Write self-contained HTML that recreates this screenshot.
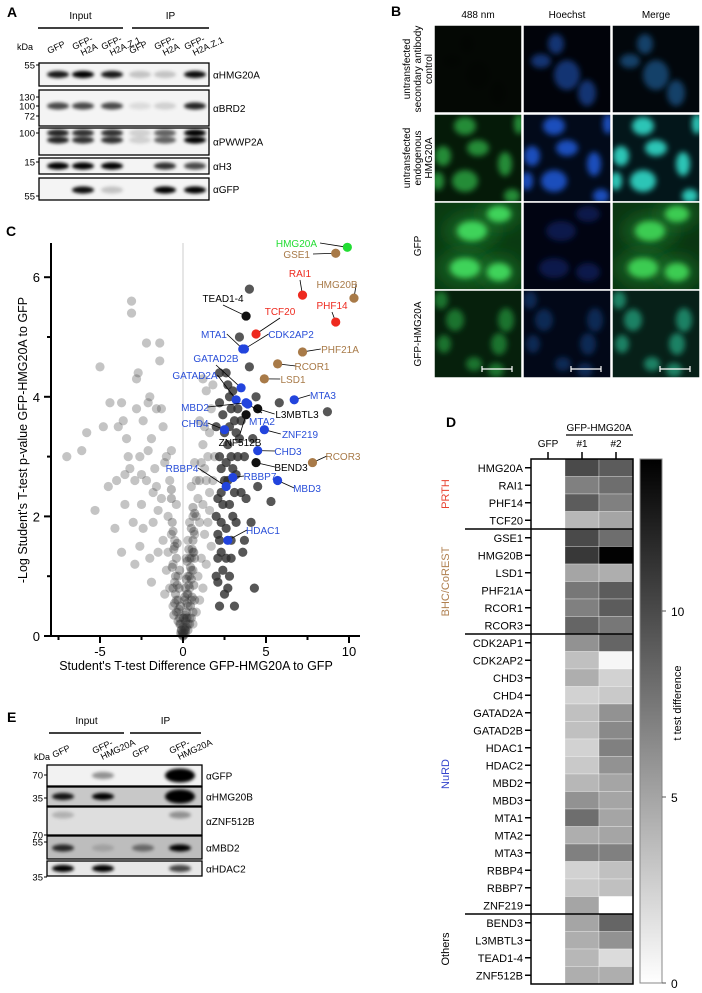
<!DOCTYPE html>
<html><head><meta charset="utf-8"><style>
html,body{margin:0;padding:0;background:#fff;}
svg{display:block;font-family:"Liberation Sans",Arial,sans-serif;}
</style></head><body>
<svg id="fig" width="702" height="993" viewBox="0 0 702 993" xmlns="http://www.w3.org/2000/svg">
<defs>
<filter id="blur1" x="-50%" y="-50%" width="200%" height="200%"><feGaussianBlur stdDeviation="1.6"/></filter>
<filter id="blur3" x="-50%" y="-50%" width="200%" height="200%"><feGaussianBlur stdDeviation="3"/></filter>
<filter id="blur8" x="-50%" y="-50%" width="200%" height="200%"><feGaussianBlur stdDeviation="8"/></filter>
<linearGradient id="cbar" x1="0" y1="1" x2="0" y2="0"><stop offset="0" stop-color="#fff"/><stop offset="1" stop-color="#000"/></linearGradient>
</defs>
<g id="panelA"></g>
<g id="panelB"></g>
<g id="panelC"></g>
<g id="panelD"></g>
<g id="panelE"></g>
</svg>
<script>
// ===== Panel C data =====
const hitNames = ["HMG20A","GSE1","RAI1","HMG20B","PHF14","TEAD1-4","TCF20","MTA1","CDK2AP2","PHF21A","RCOR1","LSD1","GATAD2B","GATAD2A","MTA3","MBD2","L3MBTL3","MTA2","ZNF512B","CHD4","ZNF219","CHD3","RCOR3","BEND3","RBBP4","RBBP7","MBD3","HDAC1"];
const hitDiff = [9.9,9.2,7.2,10.3,9.2,3.8,4.4,3.6,3.7,7.2,5.7,4.9,3.5,3.2,6.7,3.8,4.5,3.9,3.8,2.5,4.9,4.5,7.8,4.4,2.6,3.0,5.7,2.7];
const hitLogP = [6.5,6.4,5.7,5.65,5.25,5.35,5.05,4.8,4.8,4.75,4.55,4.3,4.15,3.95,3.95,3.9,3.8,3.88,3.7,3.45,3.45,3.1,2.9,2.9,2.5,2.65,2.6,1.6];
const hitGroup = ["bait","bhc","prth","bhc","prth","other","prth","nurd","nurd","bhc","bhc","bhc","nurd","nurd","nurd","nurd","other","nurd","other","nurd","nurd","nurd","bhc","other","nurd","nurd","nurd","nurd"];
const bgDiff = [-7,-6.1,-5.8,-5.3,-5.0,-4.8,-4.5,-4.4,-4.0,-3.9,-3.7,-3.6,-3.5,-3.4,-3.3,-3.1,-3.1,-2.8,-2.8,-2.7,-2.6,-2.5,-2.5,-2.4,-2.2,-2.1,-2.0,-1.9,-1.8,-1.6,-1.4,-1.4,-1.3,-1.2,-1.0,-3.0,-3.7,-2.9,-2.0,-2.4,-1.5,-1.2,-4.1,-3.2,-2.2,-1.7,-1.3,-0.9,-0.8,-0.7,-0.6,-0.5,-0.4,-0.3,-0.2,-0.1,-1.0,-0.9,-0.8,-1.5,-1.1,-0.6,-0.5,-0.4,-0.3,-1.8,-2.6,-1.9,-1.6,-1.1,-0.7,-2.1,-2.9,-3.5,
0.1,0.2,0.3,0.4,0.5,0.6,0.7,0.8,0.9,1.0,1.1,1.2,1.3,0.5,0.6,0.8,1.0,1.2,1.4,1.5,1.6,1.7,1.8,1.4,1.2,1.6,1.7,1.4,1.2,1.0,0.8,0.6,0.3,0.9,1.1,1.3,1.5,1.8,1.9,2.0,0.4,0.7,1.0,1.3,1.6,0.2,0.3,0.0,0.1,0.4,0.0,0.15,-0.15,0.25,0.5,
2.0,2.1,2.2,2.3,2.4,2.5,2.6,2.7,2.8,2.9,3.0,2.2,2.6,2.7,3.4,4.0,4.0,4.4,5.8,8.7,4.5,4.1,4.3,5.3,3.2,3.7,3.6,3.1,2.2,2.1,2.4,2.6,2.8,2.9,3.0,3.1,3.2,3.3,3.4,3.5,2.3,2.5,2.2,2.1,2.0,2.3,2.6,2.8,3.0,3.2,2.4,2.2,2.8,3.3,2.5,2.7,2.9,3.5,3.7,3.8,4.2,2.1,2.3,2.7,2.9,3.1];
const bgLogP = [3.0,3.1,3.4,2.1,4.5,3.5,2.5,3.9,2.6,3.5,3.9,3.6,2.2,3.3,3.0,5.6,5.4,3.8,4.3,4.4,3.0,2.7,2.2,3.6,4.9,3.9,4.0,3.3,2.4,3.8,4.9,4.6,3.8,3.5,3.0,1.9,1.4,1.2,1.3,1.8,2.1,1.6,1.8,2.8,2.6,2.8,2.3,2.0,2.6,1.7,1.2,0.9,0.6,0.4,0.2,0.1,1.1,1.4,0.8,1.4,0.7,0.5,1.6,2.2,1.0,1.9,1.5,0.9,2.5,2.9,3.1,3.1,2.6,2.7,
0.1,0.3,0.5,0.8,1.1,1.4,1.7,2.0,2.3,2.6,2.9,3.2,3.5,2.5,2.0,2.6,1.9,2.2,2.6,3.0,3.4,3.8,4.2,4.1,4.3,2.1,1.5,1.2,0.8,0.6,0.4,0.2,0.2,1.0,1.3,1.7,1.9,2.6,3.0,3.5,1.9,2.9,3.6,2.8,2.4,1.3,1.6,0.3,0.6,0.3,0.0,0.05,0.05,0.7,0.6,
1.0,1.3,1.6,1.9,2.2,2.6,2.9,3.2,3.5,3.8,4.1,4.4,4.4,4.2,5.0,5.8,4.5,4.0,3.9,3.75,2.5,1.9,0.8,2.25,1.9,1.6,1.4,0.5,0.5,0.9,1.1,1.3,1.0,1.6,2.0,2.4,2.7,3.0,3.3,3.6,2.8,3.4,3.0,2.3,2.0,1.4,1.8,2.2,2.8,3.4,3.7,3.9,4.0,3.8,0.7,0.8,1.3,2.4,3.0,2.3,3.3,1.7,2.4,2.6,3.0,3.6];
const xTicks = [-5,0,5,10];
const yTicks = [0,2,4,6];

// ===== Panel D data =====
const hmRows = ["HMG20A","RAI1","PHF14","TCF20","GSE1","HMG20B","LSD1","PHF21A","RCOR1","RCOR3","CDK2AP1","CDK2AP2","CHD3","CHD4","GATAD2A","GATAD2B","HDAC1","HDAC2","MBD2","MBD3","MTA1","MTA2","MTA3","RBBP4","RBBP7","ZNF219","BEND3","L3MBTL3","TEAD1-4","ZNF512B"];
const hmGFP = [0,0,0,0,0,0,0,0,0,0,0,0,0,0,0,0,0,0,0,0,0,0,0,0,0,0,0,0,0,0];
const hmRep1 = [10,7,9,4,10,11,5,7.5,7,8.5,6,3.5,4.5,2.5,3.5,3.5,2.5,3,4,6,8,4.5,7,2.5,3,5,5,4.5,4,4.5];
const hmRep2 = [9,8,7,5,8,14,4.5,9,9,7.5,8.5,0.5,2.5,3,6,6.5,7,6,5,5,5,5,7,3.5,3.5,0,8.5,6,2,4.5];
const cbTicks = [0,5,10];

const NS="http://www.w3.org/2000/svg";
function mk(tag, attrs, parent, txt){const e=document.createElementNS(NS,tag);for(const k in attrs)e.setAttribute(k,attrs[k]);if(txt!==undefined)e.textContent=txt;parent.appendChild(e);return e;}

// ===== Panel C =====
(function(){
const g=document.getElementById('panelC');
const px=x=>183+16.6*x, py=y=>636-59.8*y;
const t=mk('text',{x:6,y:236,'font-size':14,'font-weight':'bold'},g,'C');


const zl=mk('line',{x1:px(0),y1:py(0),x2:px(0),y2:243,stroke:'#ddd','stroke-width':1.5},g);


const pts=mk('g',{},g);


for(let i=0;i<bgDiff.length;i++){
  const dark=bgDiff[i]>=2;
  const c=mk('circle',{cx:px(bgDiff[i]),cy:py(bgLogP[i]),r:4.6,fill:dark?'rgba(45,45,45,0.8)':'rgba(70,70,70,0.32)'},pts);
  
  
}
for(let i=0;i<bgDiff.length;i++){
  if(Math.abs(bgDiff[i])<1.5){
    const c=mk('circle',{cx:px(bgDiff[i]*0.5),cy:py(bgLogP[i]*0.5),r:4.6,fill:'rgba(50,50,50,0.35)'},pts);
    
    
  }
}
const colors={bait:'#22dd33',bhc:'#a87a48',prth:'#ee2a1f',nurd:'#2244dd',other:'#111'};
const textCol={bait:'#22dd33',bhc:'#a87a48',prth:'#ee2a1f',nurd:'#2a4fd8',other:'#000'};
const lab=[[317,247,'end'],[310,258,'end'],[300,277,'middle'],[337,288,'middle'],[332,309,'middle'],[223,302,'middle'],[280,315,'middle'],[214,338,'middle'],[291,338,'middle'],[340,353,'middle'],[312,370,'middle'],[293,383,'middle'],[216,362,'middle'],[195,379,'middle'],[323,399,'middle'],[195,411,'middle'],[297,418,'middle'],[262,425,'middle'],[240,446,'middle'],[195,427,'middle'],[300,438,'middle'],[288,455,'middle'],[343,460,'middle'],[291,471,'middle'],[182,472,'middle'],[260,480,'middle'],[307,492,'middle'],[263,534,'middle']];
const hits=mk('g',{},g);


for(let i=0;i<hitNames.length;i++){
  const x=px(hitDiff[i]),y=py(hitLogP[i]);
  const L=lab[i];
  let lx=L[0], ly=L[1]-4;
  if(L[2]==='end'){lx=L[0]+3;} else {lx = (L[0]<x? L[0]+ (hitNames[i].length*3.2) : L[0]-(hitNames[i].length*3.2)); if(Math.abs(L[1]-y)>12 && Math.abs(L[0]-x)<30){lx=L[0];ly=L[1]+(L[1]<y?3:-12);}}
  mk('line',{x1:lx,y1:ly,x2:x,y2:y,stroke:'#000','stroke-width':0.8},hits);
  const c=mk('circle',{cx:x,cy:y,r:4.6,fill:colors[hitGroup[i]]},hits);
  
  
  const tx=mk('text',{x:L[0],y:L[1],'font-size':10,'text-anchor':L[2],fill:textCol[hitGroup[i]]},hits,hitNames[i]);
  
  
}
const ax=mk('g',{stroke:'#000','stroke-width':2,fill:'none'},g);


mk('line',{x1:51,y1:243,x2:51,y2:637},ax);
mk('line',{x1:50,y1:636,x2:360,y2:636},ax);
for(let v=0;v<=6.5;v+=1){mk('line',{x1:v%2===0?44:47,y1:py(v),x2:51,y2:py(v)},ax);}
for(let v=-7.5;v<=10.5;v+=2.5){mk('line',{x1:px(v),y1:636,x2:px(v),y2:(Math.abs(v%5)<0.01)?643:640},ax);}
yTicks.forEach(v=>{const e=mk('text',{x:40,y:py(v)+5,'font-size':13,'text-anchor':'end'},g,String(v));});
xTicks.forEach(v=>{const e=mk('text',{x:px(v),y:656,'font-size':13,'text-anchor':'middle'},g,String(v));});
const xt=mk('text',{x:196,y:670,'font-size':12.5,'text-anchor':'middle'},g,"Student's T-test Difference GFP-HMG20A to GFP");


const yt=mk('text',{x:0,y:0,'font-size':12.5,'text-anchor':'middle',transform:'translate(27,440) rotate(-90)'},g,"-Log Student's T-test p-value GFP-HMG20A to GFP");


})();

// ===== Panel D =====
(function(){
const g=document.getElementById('panelD');
const top=459, rh=17.5, cols=[531,565,599,633];
const ry=i=>top+i*rh;
const shade=v=>{const c=Math.round(255*(1-v/14.1));return 'rgb('+c+','+c+','+c+')';};
const t=mk('text',{x:446,y:427,'font-size':14,'font-weight':'bold'},g,'D');


const h=mk('text',{x:599,y:431,'font-size':10,'text-anchor':'middle'},g,'GFP-HMG20A');


mk('line',{x1:566,y1:435,x2:633,y2:435,stroke:'#000','stroke-width':1.2},g);
[['GFP',548],['#1',582],['#2',616]].forEach(c=>{const e=mk('text',{x:c[1],y:447,'font-size':10,'text-anchor':'middle'},g,c[0]);mk('line',{x1:c[1],y1:452,x2:c[1],y2:459,stroke:'#000','stroke-width':1.5},g);});
const reps=[hmGFP,hmRep1,hmRep2];
for(let i=0;i<hmRows.length;i++){
  for(let j=0;j<3;j++){
    const r=mk('rect',{x:cols[j],y:ry(i),width:cols[j+1]-cols[j],height:rh,fill:shade(reps[j][i]),stroke:j?'rgba(255,255,255,0.5)':'none','stroke-width':0.6},g);
    
    
  }
  const e=mk('text',{x:523,y:ry(i)+rh/2+4,'font-size':11,'text-anchor':'end'},g,hmRows[i]);
  
  
  mk('line',{x1:525,y1:ry(i)+rh/2,x2:531,y2:ry(i)+rh/2,stroke:'#000','stroke-width':1.5},g);
}
[4,10,26].forEach(k=>mk('line',{x1:465,y1:ry(k),x2:633,y2:ry(k),stroke:'#000','stroke-width':1.5},g));
const fr=mk('rect',{x:531,y:top,width:102,height:rh*30,fill:'none',stroke:'#000','stroke-width':1.5},g);


[['PRTH',0,4,'#e8412f'],['BHC/CoREST',4,10,'#b08050'],['NuRD',10,26,'#3344cc'],['Others',26,30,'#000']].forEach(gr=>{
  const cy=(ry(gr[1])+ry(gr[2]))/2;
  const e=mk('text',{x:0,y:0,'font-size':11,'text-anchor':'middle',fill:gr[3],transform:'translate(449,'+cy+') rotate(-90)'},g,gr[0]);
  
  
});
const cby=v=>983-v*37.2;
const cb=mk('rect',{x:640,y:459,width:22,height:524,fill:'url(#cbar)',stroke:'#888','stroke-width':1},g);


cbTicks.forEach(v=>{
  mk('line',{x1:662,y1:cby(v),x2:666,y2:cby(v),stroke:'#555','stroke-width':1},g);
  const e=mk('text',{x:671,y:cby(v)+5,'font-size':12},g,String(v));
  
  
});
const ct=mk('text',{x:0,y:0,'font-size':11,'text-anchor':'middle',transform:'translate(681,703) rotate(-90)'},g,'t test difference');


})();

// ===== Westerns =====
function western(g, o){
  const t=mk('text',{x:o.lx,y:o.ly,'font-size':14,'font-weight':'bold'},g,o.letter);
  
  
  o.groups.forEach(gr=>{
    const e=mk('text',{x:(gr[0]+gr[1])/2,y:o.gy,'font-size':10,'text-anchor':'middle'},g,gr[2]);
    
    
    mk('line',{x1:gr[0],y1:o.gy+9,x2:gr[1],y2:o.gy+9,stroke:'#000','stroke-width':1.5},g);
  });
  const k=mk('text',{x:o.kx,y:o.ky,'font-size':9},g,'kDa');
  
  
  o.lanes.forEach((x,i)=>{
    const lines=o.laneNames[i].split('|');
    const e=mk('text',{x:0,y:0,'font-size':9,transform:'translate('+(x-9)+','+(o.laneY-(lines.length-1)*4)+') rotate(-25)'},g);
    lines.forEach((s,j)=>mk('tspan',{x:j*5,dy:j?9:0},e,s));
    
    
  });
  o.boxes.forEach((b,bi)=>{
    const bg=mk('rect',{x:o.x0,y:b[0],width:o.x1-o.x0,height:b[1]-b[0],fill:b[3]||'#f4f4f4'},g);
    
    
    const bands=o.bands[bi];
    bands.forEach((v,li)=>{
      if(v<=0)return;
      const ys=b[4]||[(b[0]+b[1])/2];
      ys.forEach(yy=>{
        const big=v>=1.05;
        mk('ellipse',{cx:o.lanes[li],cy:yy,rx:big?15:11,ry:big?7:3.6,fill:'#000','fill-opacity':Math.min(v,1),filter:'url(#blur1)'},g);
      });
    });
    mk('rect',{x:o.x0,y:b[0],width:o.x1-o.x0,height:b[1]-b[0],fill:'none',stroke:'#000','stroke-width':1.3},g);
    const e=mk('text',{x:o.x1+4,y:(b[0]+b[1])/2+4,'font-size':10},g,b[2]);
    
    
  });
  o.kda.forEach(m=>{
    const e=mk('text',{x:o.x0-4,y:m[1]+3.5,'font-size':9.5,'text-anchor':'end'},g,m[0]);
    
    
    mk('line',{x1:o.x0-3,y1:m[1],x2:o.x0,y2:m[1],stroke:'#000','stroke-width':1},g);
  });
}
western(document.getElementById('panelA'),{
  letter:'A',lx:7,ly:17,gy:19,groups:[[38,123,'Input'],[132,209,'IP']],kx:17,ky:50,
  lanes:[58,83,112,140,165,195],laneNames:['GFP','GFP-|H2A','GFP-|H2A.Z.1','GFP','GFP-|H2A','GFP-|H2A.Z.1'],laneY:54,
  x0:39,x1:209,
  boxes:[[63,86,'αHMG20A'],[90,126,'αBRD2',null,[106]],[128,155,'αPWWP2A',null,[133,140]],[158,174,'αH3'],[178,200,'αGFP',null,[190]]],
  bands:[[0.9,1,0.9,0.2,0.2,0.95],[0.7,0.7,0.7,0.1,0.15,0.85],[0.85,0.8,0.8,0.15,0.6,1],[1,1,1,0,0.8,0.7],[0,0.95,0.2,0,1,1]],
  kda:[['55',65],['130',97],['100',106],['72',116],['100',133],['15',162],['55',196]]
});
western(document.getElementById('panelE'),{
  letter:'E',lx:7,ly:722,gy:724,groups:[[49,124,'Input'],[130,201,'IP']],kx:34,ky:760,
  lanes:[63,103,143,180],laneNames:['GFP','GFP-|HMG20A','GFP','GFP-|HMG20A'],laneY:758,
  x0:47,x1:202,
  boxes:[[765,786,'αGFP','#f2f2f2'],[787,806,'αHMG20B','#c8c8c8'],[807,835,'αZNF512B','#dedede',[815]],[836,859,'αMBD2','#bdbdbd',[848]],[861,876,'αHDAC2','#e8e8e8']],
  bands:[[0,0.4,0,1.1],[0.9,1,0,1.1],[0.2,0,0,0.35],[0.8,0.15,0.45,1],[1,1,0,0.7]],
  kda:[['70',775],['35',798],['70',835],['55',842],['35',877]]
});

// ===== Panel B =====
(function(){
const g=document.getElementById('panelB');
const t=mk('text',{x:391,y:16,'font-size':14,'font-weight':'bold'},g,'B');


const cx=[434,523,612], ry=[25,114,202,290], S=88;
[['488 nm',478],['Hoechst',567],['Merge',656]].forEach(c=>{const e=mk('text',{x:c[1],y:18,'font-size':10,'text-anchor':'middle'},g,c[0]);});
const rowLabels=[['untransfected','secondary antibody','control'],['untransfected','endogenous','HMG20A'],['GFP'],['GFP-HMG20A']];
rowLabels.forEach((ls,i)=>{
  const e=mk('text',{x:0,y:0,'font-size':10,'text-anchor':'middle',transform:'translate('+(421-(ls.length-1)*5.5)+','+(ry[i]+44)+') rotate(-90)'},g);
  ls.forEach((s,j)=>mk('tspan',{x:0,dy:j?11:0},e,s));
  
  
});
const nuc=[
 [[33,19,8,10],[18,36,10,7],[44,50,13,15],[64,68,9,13]],
 [[31,12,11,9],[44,34,11,8],[9,42,8,10],[31,67,13,11],[71,50,7,12],[78,82,8,7],[4,67,6,9],[85,10,5,10]],
 [[38,29,15,10],[31,66,15,10],[65,70,12,9],[65,12,12,8]],
 [[7,10,7,9],[21,30,9,11],[72,30,8,12],[10,54,7,9],[65,54,8,11],[40,74,8,7],[62,80,8,7]]
];
const bgs=[['#040804','#01030a','#02070c'],['#051a08','#020a1a','#03161a'],['#0a3a12','#010412','#0a3512'],['#06200c','#020818','#072018']];
const colsN=[['#081a08','#1a4aa0','#1a5a90'],['#2aa040','#1c5ad8','#30d8c8'],['#44e060','#142a70','#40d858'],['#22903a','#16366e','#239a78']];
const op=[[0.2,0.7,0.7],[0.85,0.85,0.9],[0.9,0.6,0.9],[0.75,0.7,0.8]];
for(let r=0;r<4;r++)for(let c=0;c<3;c++){
  const tile=mk('g',{},g);
  
  
  const id='clip'+r+c;
  const cp=mk('clipPath',{id:id},tile);
  mk('rect',{x:cx[c],y:ry[r],width:S,height:S},cp);
  const inner=mk('g',{'clip-path':'url(#'+id+')'},tile);
  mk('rect',{x:cx[c],y:ry[r],width:S,height:S,fill:bgs[r][c]},inner);
  if(r===2&&c!==1){nuc[r].forEach(n=>mk('ellipse',{cx:cx[c]+n[0],cy:ry[r]+n[1],rx:n[2]*1.8,ry:n[3]*1.8,fill:'#1d7a2c','fill-opacity':0.6,filter:'url(#blur8)'},inner));}
  nuc[r].forEach(n=>mk('ellipse',{cx:cx[c]+n[0],cy:ry[r]+n[1],rx:n[2],ry:n[3],fill:colsN[r][c],'fill-opacity':op[r][c],filter:'url(#blur3)'},inner));
  mk('rect',{x:cx[c],y:ry[r],width:S,height:S,fill:'none',stroke:'#fff','stroke-width':1.5},tile);
  if(r===3){mk('path',{d:'M'+(cx[c]+48)+' '+(ry[r]+79)+'h30M'+(cx[c]+48)+' '+(ry[r]+76)+'v6M'+(cx[c]+78)+' '+(ry[r]+76)+'v6',stroke:'#fff','stroke-width':1.2,fill:'none'},tile);}
}
})();
</script>
</body></html>
